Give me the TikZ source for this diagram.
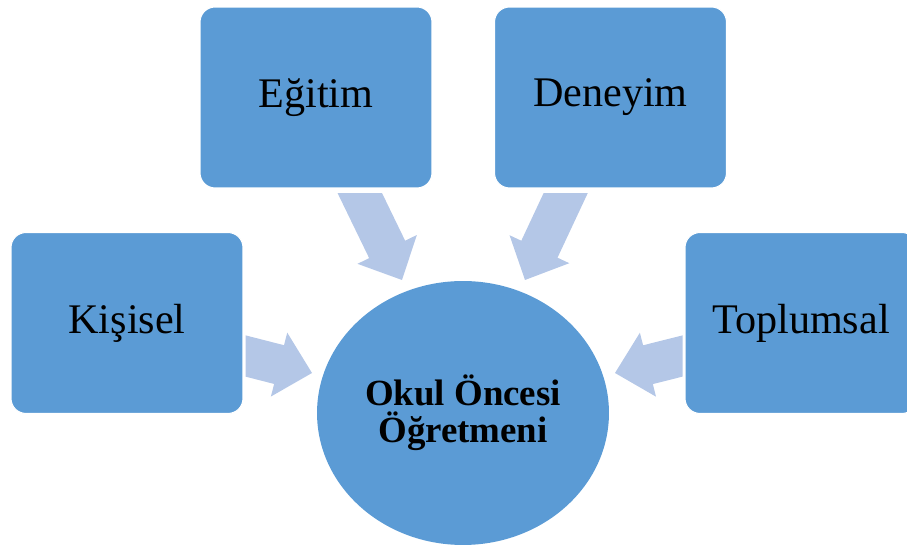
\documentclass[tikz,border=0pt]{standalone}
\usepackage{fontspec}
\setmainfont{Liberation Serif}
\usetikzlibrary{calc,shapes.geometric}

\definecolor{boxblue}{HTML}{5B9BD5}
\definecolor{arrowblue}{HTML}{B4C7E7}

\newcommand{\blockarrow}[2]{%
    \path coordinate (hb) at ($(#2)!0.68cm!(#1)$) coordinate (tb) at ($(#1)!-0.4cm!(#2)$);
    \fill[arrowblue] ($(tb)!0.4cm!90:(#2)$) -- ($(hb)!0.4cm!90:(#2)$) -- ($(hb)!0.66cm!90:(#2)$) -- (#2)
        -- ($(hb)!0.66cm!-90:(#2)$) -- ($(hb)!0.4cm!-90:(#2)$) -- ($(tb)!0.4cm!-90:(#2)$) -- cycle;}

\begin{document}
\begin{tikzpicture}[x=0.02cm,y=-0.02cm,
        factorbox/.style={rectangle,rounded corners=0.3cm,fill=boxblue,draw=white,line width=0.6pt,
            minimum width=4.64cm,minimum height=3.62cm,font=\fontsize{24}{28}\selectfont},
        centre/.style={ellipse,fill=boxblue,inner sep=0pt,minimum width=5.84cm,minimum height=5.28cm,
            align=center,font=\fontsize{21}{21}\selectfont\bfseries}]
                \useasboundingbox (0,0) rectangle (907,546);
                \node[factorbox] (egitim) at (316,97.5) {Eğitim};
                \node[factorbox] (deneyim) at (610.5,97.5) {Deneyim};
                \node[factorbox] (kisisel) at (127,323) {Kişisel};
                \node[factorbox] (toplumsal) at (801,323) {Toplumsal};
                \node[centre] (ogretmen) at (463,413) {Okul Öncesi\\Öğretmeni};
                \coordinate (egitimtail) at ([shift={(44,5)}]egitim.south);
                \coordinate (deneyimtail) at ([shift={(-45,5)}]deneyim.south);
                \coordinate (kisiseltail) at ([shift={(2,33)}]kisisel.east);
                \coordinate (toplumsaltail) at ([shift={(-2,33)}]toplumsal.west);
                \coordinate (egitimtip) at ([shift={(-61,-133)}]ogretmen.center);
                \coordinate (deneyimtip) at ([shift={(62,-133)}]ogretmen.center);
                \coordinate (kisiseltip) at ([shift={(-151,-40)}]ogretmen.center);
                \coordinate (toplumsaltip) at ([shift={(152,-40)}]ogretmen.center);
                \begin{scope}
                    \clip (kisiseltail |- egitimtail) rectangle (toplumsaltail |- 0,546);
                    \blockarrow{egitimtail}{egitimtip}
                    \blockarrow{deneyimtail}{deneyimtip}
                    \blockarrow{kisiseltail}{kisiseltip}
                    \blockarrow{toplumsaltail}{toplumsaltip}
                \end{scope}
\end{tikzpicture}
\end{document}
